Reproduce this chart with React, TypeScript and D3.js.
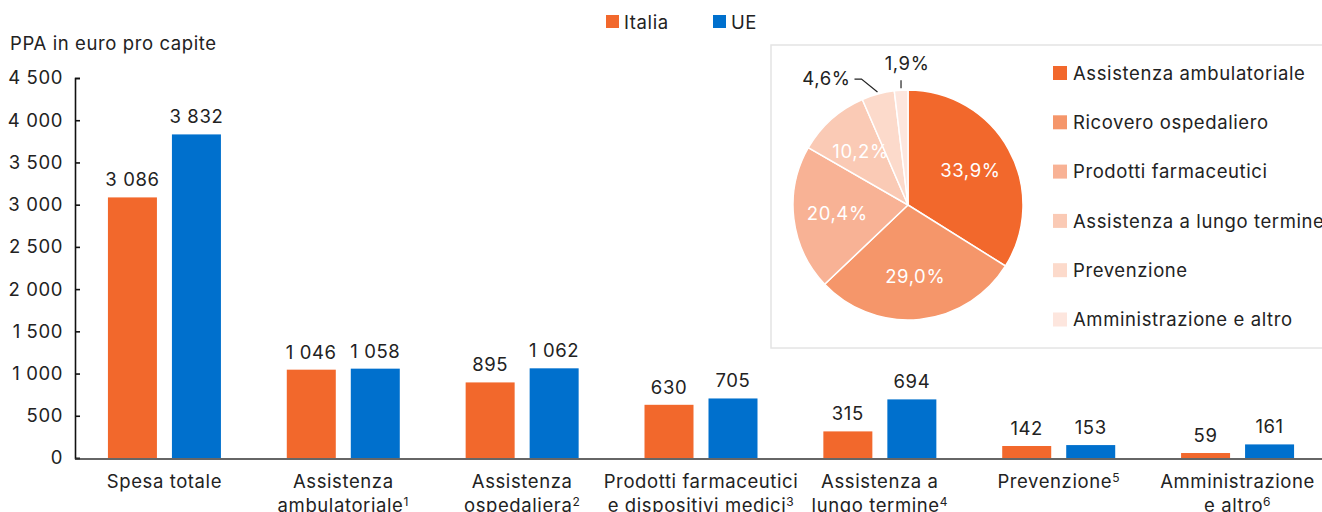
import React, { useEffect, useRef } from 'react';
import * as d3 from 'd3';

// bar chart data (PPA in euro pro capite)
const categories = [
  'Spesa totale',
  'Assistenza ambulatoriale',
  'Assistenza ospedaliera',
  'Prodotti farmaceutici e dispositivi medici',
  'Assistenza a lungo termine',
  'Prevenzione',
  'Amministrazione e altro',
];
const categoryLines = [
  ['Spesa totale'],
  ['Assistenza', 'ambulatoriale'],
  ['Assistenza', 'ospedaliera'],
  ['Prodotti farmaceutici', 'e dispositivi medici'],
  ['Assistenza a', 'lungo termine'],
  ['Prevenzione'],
  ['Amministrazione', 'e altro'],
];
const footnotes = ['', '1', '2', '3', '4', '5', '6'];
const italia = [3086, 1046, 895, 630, 315, 142, 59];
const ue = [3832, 1058, 1062, 705, 694, 153, 161];
const seriesNames = ['Italia', 'UE'];
const yTicks = [0, 500, 1000, 1500, 2000, 2500, 3000, 3500, 4000, 4500];

// pie data (Italia, share of spending)
const pieLabels = [
  'Assistenza ambulatoriale',
  'Ricovero ospedaliero',
  'Prodotti farmaceutici',
  'Assistenza a lungo termine',
  'Prevenzione',
  'Amministrazione e altro',
];
const pieValues = [33.9, 29.0, 20.4, 10.2, 4.6, 1.9];

const ORANGE = '#F2682C';
const BLUE = '#0070CD';
const pieColors = ['#F2682C', '#F5966A', '#F8B295', '#FACAB5', '#FCDACB', '#FDE6DE'];
const FONT = 'Inter, "Noto Sans", sans-serif';
const TEXT = '#222';
const FS = '18.5px';
const LS = '0.6px';

const fmt = (v: number) => d3.format(',')(v).replace(/,/g, ' ');
const pct = (v: number) => v.toFixed(1).replace('.', ',') + '%';

export default function App() {
  const ref = useRef<SVGSVGElement>(null);

  useEffect(() => {
    const width = 1322;
    const height = 512;
    const svg = d3.select(ref.current);
    svg.selectAll('*').remove();
    svg
      .attr('width', width)
      .attr('height', height)
      .style('font-family', FONT)
      .style('letter-spacing', LS);

    const x = d3.scaleBand().domain(categories).range([75, 1327]);
    const y = d3.scaleLinear().domain([0, 4500]).range([458, 78]);
    const barW = 49;
    const barGap = 15;

    // y axis
    const yAxis = d3
      .axisLeft(y)
      .tickValues(yTicks)
      .tickSize(-5)
      .tickPadding(12)
      .tickFormat((d) => fmt(d as number));
    const yg = svg.append('g').attr('transform', 'translate(75,0)').call(yAxis);
    yg.select('.domain').attr('stroke', '#111').attr('stroke-width', 1.6);
    yg.selectAll('.tick line').attr('stroke', '#111').attr('stroke-width', 1.6);
    yg.selectAll('.tick text')
      .attr('fill', TEXT)
      .style('font-size', FS)
      .style('font-family', FONT);

    // axis title
    svg
      .append('text')
      .attr('x', 10)
      .attr('y', 50)
      .attr('fill', TEXT)
      .style('font-size', FS)
      .text('PPA in euro pro capite');

    // bars
    const series = [italia, ue];
    const colors = [ORANGE, BLUE];
    series.forEach((vals, si) => {
      const g = svg.append('g');
      const offset = si === 0 ? 0 : barW + barGap;
      const x0 = (c: string) => x(c)! + (x.bandwidth() - (2 * barW + barGap)) / 2 + offset;
      g.selectAll('rect')
        .data(vals)
        .enter()
        .append('rect')
        .attr('x', (d, i) => x0(categories[i]))
        .attr('y', (d) => y(d))
        .attr('width', barW)
        .attr('height', (d) => y(0) - y(d))
        .attr('fill', colors[si]);
      g.selectAll('text')
        .data(vals)
        .enter()
        .append('text')
        .attr('x', (d, i) => x0(categories[i]) + barW / 2)
        .attr('y', (d) => y(d) - 11)
        .attr('text-anchor', 'middle')
        .attr('fill', TEXT)
        .style('font-size', FS)
        .text((d) => fmt(d));
    });

    // x axis baseline
    svg
      .append('line')
      .attr('x1', 75)
      .attr('x2', width)
      .attr('y1', y(0) + 1)
      .attr('y2', y(0) + 1)
      .attr('stroke', '#333')
      .attr('stroke-width', 1.6);

    // category labels
    categories.forEach((c, i) => {
      const cx = x(c)! + x.bandwidth() / 2;
      const t = svg
        .append('text')
        .attr('x', cx)
        .attr('y', 488)
        .attr('text-anchor', 'middle')
        .attr('fill', TEXT)
        .style('font-size', FS);
      const lines = categoryLines[i];
      lines.forEach((line, li) => {
        t.append('tspan')
          .attr('x', cx)
          .attr('dy', li === 0 ? 0 : li === lines.length - 1 && lines.length > 1 ? 24 : 24)
          .text(line);
        if (li === lines.length - 1 && footnotes[i]) {
          t.append('tspan')
            .attr('dy', -6)
            .style('font-size', '12px')
            .text(footnotes[i]);
        }
      });
    });

    // top legend
    const legend = svg.append('g');
    const legendX = [606, 713];
    seriesNames.forEach((name, i) => {
      legend
        .append('rect')
        .attr('x', legendX[i])
        .attr('y', 15)
        .attr('width', 13)
        .attr('height', 13)
        .attr('fill', colors[i]);
      legend
        .append('text')
        .attr('x', legendX[i] + 18)
        .attr('y', 29)
        .attr('fill', TEXT)
        .style('font-size', FS)
        .text(name);
    });

    // inset box with pie
    svg
      .append('rect')
      .attr('x', 771)
      .attr('y', 45)
      .attr('width', 600)
      .attr('height', 303)
      .attr('fill', '#fff')
      .attr('stroke', '#e4e4e4')
      .attr('stroke-width', 1.5);

    const cx = 908;
    const cy = 205;
    const r = 115;
    const pie = d3.pie<number>().sort(null).value((d) => d);
    const arcs = pie(pieValues);
    const arc = d3.arc<d3.PieArcDatum<number>>().innerRadius(0).outerRadius(r);
    const pg = svg.append('g').attr('transform', `translate(${cx},${cy})`);
    pg.selectAll('path')
      .data(arcs)
      .enter()
      .append('path')
      .attr('d', arc)
      .attr('fill', (d, i) => pieColors[i])
      .attr('stroke', '#fff')
      .attr('stroke-width', 1.5);

    const labelArc = d3.arc<d3.PieArcDatum<number>>().innerRadius(r * 0.62).outerRadius(r * 0.62);
    arcs.forEach((a, i) => {
      if (i < 4) {
        const [lx, ly] = labelArc.centroid(a);
        pg.append('text')
          .attr('x', lx)
          .attr('y', ly)
          .attr('dy', '0.36em')
          .attr('text-anchor', 'middle')
          .attr('fill', '#fff')
          .style('font-size', FS)
          .text(pct(pieValues[i]));
      }
    });

    // outside labels for the small slices
    const outer = d3.arc<d3.PieArcDatum<number>>().innerRadius(r + 2).outerRadius(r + 2);
    const [ax, ay] = outer.centroid(arcs[4]);
    pg.append('path')
      .attr('d', `M${ax},${ay} L${ax - 16},${ay - 13} L${ax - 23},${ay - 13}`)
      .attr('fill', 'none')
      .attr('stroke', '#222')
      .attr('stroke-width', 1.2);
    pg.append('text')
      .attr('x', ax - 27)
      .attr('y', ay - 7)
      .attr('text-anchor', 'end')
      .attr('fill', TEXT)
      .style('font-size', FS)
      .text(pct(pieValues[4]));
    const [bx, by] = outer.centroid(arcs[5]);
    pg.append('line')
      .attr('x1', bx)
      .attr('x2', bx)
      .attr('y1', by)
      .attr('y2', by - 8)
      .attr('stroke', '#222')
      .attr('stroke-width', 1.2);
    pg.append('text')
      .attr('x', bx + 6)
      .attr('y', by - 18)
      .attr('text-anchor', 'middle')
      .attr('fill', TEXT)
      .style('font-size', FS)
      .text(pct(pieValues[5]));

    // pie legend
    pieLabels.forEach((lab, i) => {
      const ly = 73 + i * 49.3;
      svg
        .append('rect')
        .attr('x', 1053)
        .attr('y', ly - 7)
        .attr('width', 14)
        .attr('height', 14)
        .attr('fill', pieColors[i]);
      svg
        .append('text')
        .attr('x', 1073)
        .attr('y', ly)
        .attr('dy', '0.36em')
        .attr('fill', TEXT)
        .style('font-size', FS)
        .text(lab);
    });
  }, []);

  return (
    <svg ref={ref} style={{ position: 'absolute', left: 0, top: 0, display: 'block' }} />
  );
}
